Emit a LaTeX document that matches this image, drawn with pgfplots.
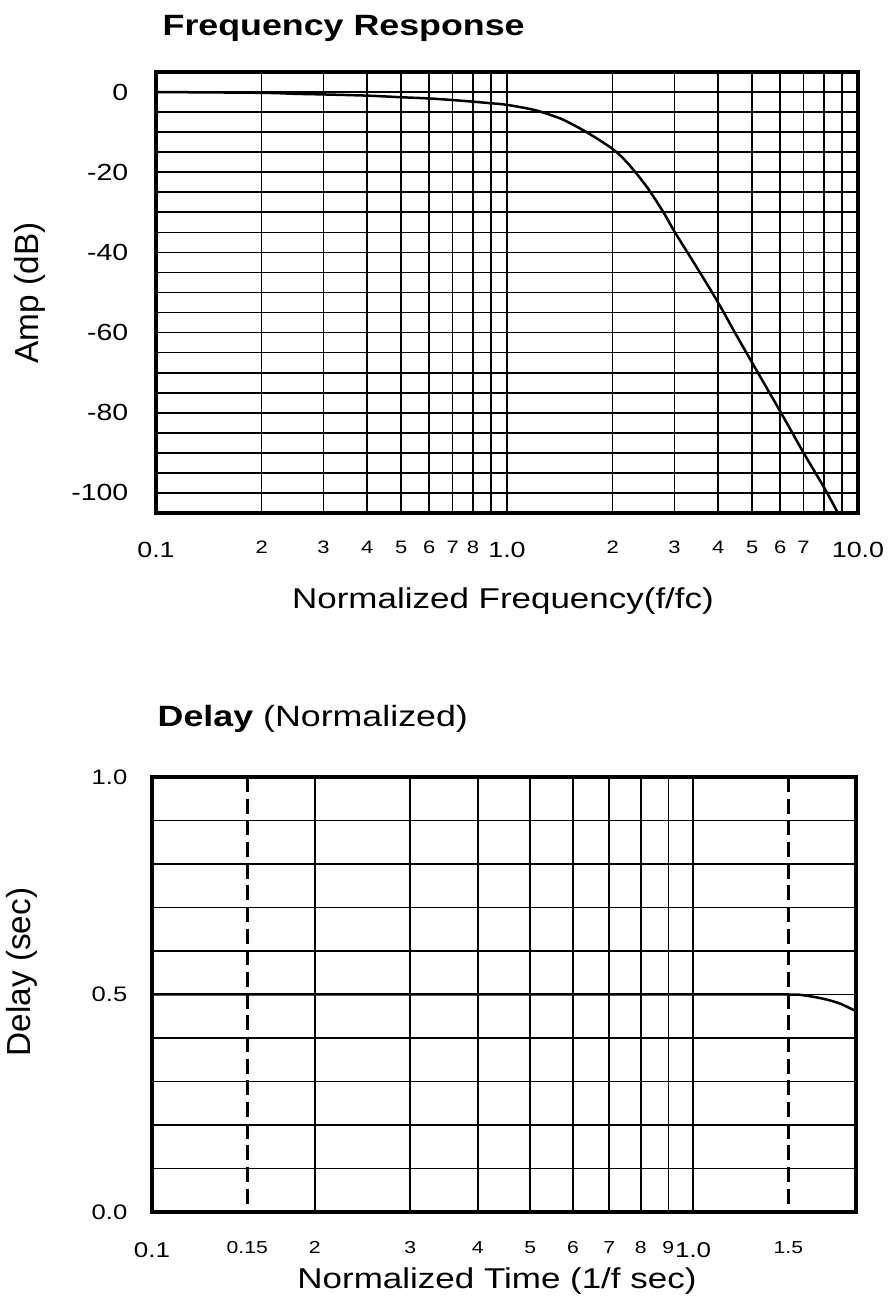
\documentclass[border=0pt]{standalone}
\usepackage{pgfplots}
\pgfplotsset{compat=1.18}
\usepackage{fontspec}
\setmainfont[FakeStretch=1.22]{Liberation Sans}
\newfontfamily\rotfont{Liberation Sans}

\newcommand{\fs}[1]{\fontsize{#1}{#1}\selectfont}

\pgfplotsset{
  filtergrid/.style={
    scale only axis,
    anchor=south west,
    grid=both,
    major grid style={black, line width=0.5pt},
    minor grid style={black, line width=0.5pt},
    major tick length=0pt, minor tick length=0pt,
    axis line style={line width=1pt},
    xticklabel style={anchor=north, inner sep=0pt},
    yticklabel style={anchor=east, inner sep=0pt},
  }
}

\begin{document}
\begin{tikzpicture}
% page frame: 888 x 1301 px at 0.3pt per px
\path (0,0) rectangle (266.4pt,390.3pt);

% ---------------- frequency response ----------------
\begin{semilogxaxis}[filtergrid,
  at={(46.8pt,236.4pt)}, width=210.6pt, height=132.3pt,
  xmin=0.1, xmax=10, ymin=-105, ymax=5,
  xtick={0.1,1,10}, xticklabels={0.1,1.0,10.0},
  minor xtick={0.2,0.3,0.4,0.5,0.6,0.7,0.8,0.9,2,3,4,5,6,7,8,9},
  extra x ticks={0.2,0.3,0.4,0.5,0.6,0.7,0.8,2,3,4,5,6,7},
  extra x tick labels={2,3,4,5,6,7,8,2,3,4,5,6,7},
  extra x tick style={grid=none, xticklabel style={font=\fs{5.4pt}, yshift=0.3pt}},
  ytick={-100,-80,-60,-40,-20,0},
  yticklabels={-100,-80,-60,-40,-20,0},
  minor y tick num=3,
  xticklabel style={yshift=-8.4pt, font=\fs{6.6pt}},
  yticklabel style={xshift=-8.1pt, font=\fs{7pt}},
]
\addplot[black, line width=0.75pt, smooth] coordinates {
  (0.1,0) (0.2,-0.2) (0.25,-0.45) (0.3,-0.6) (0.4,-0.9) (0.5,-1.3)
  (0.6,-1.6) (0.7,-2.0) (0.8,-2.4) (0.9,-2.8) (1.0,-3.2) (1.2,-4.5)
  (1.4,-6.4) (1.5,-7.6) (1.7,-10.2) (2.0,-14.2) (2.2,-17.6) (2.5,-23.6)
  (2.8,-30.2) (3.0,-34.8) (3.5,-44.2) (4.0,-52.6) (4.5,-60.6) (5.0,-67.6)
  (6.0,-79.6) (7.0,-90) (8.0,-98.6) (8.77,-105)
};
\end{semilogxaxis}

% ---------------- delay ----------------
\begin{semilogxaxis}[filtergrid,
  at={(45.6pt,26.7pt)}, width=211.2pt, height=130.5pt,
  xmin=0.1, xmax=2, ymin=0, ymax=1,
  xtick={0.1,1}, xticklabels={0.1,1.0},
  minor xtick={0.2,0.3,0.4,0.5,0.6,0.7,0.8,0.9},
  extra x ticks={0.15,0.2,0.3,0.4,0.5,0.6,0.7,0.8,0.9,1.5},
  extra x tick labels={0.15,2,3,4,5,6,7,8,9,1.5},
  extra x tick style={grid=none, xticklabel style={font=\fs{5.2pt}, yshift=0.3pt}},
  ytick={0,0.5,1}, yticklabels={0.0,0.5,1.0},
  minor y tick num=4,
  xticklabel style={yshift=-9pt, font=\fs{6.4pt}},
  yticklabel style={xshift=-7.2pt, font=\fs{6.3pt}},
]
\addplot[black, line width=0.9pt, dash pattern=on 4.5pt off 2pt] coordinates {(0.15,1) (0.15,0)};
\addplot[black, line width=0.9pt, dash pattern=on 4.5pt off 2pt] coordinates {(1.5,1) (1.5,0)};
\addplot[black, line width=0.75pt, smooth] coordinates {
  (0.1,0.5) (1.0,0.5) (1.5,0.5) (1.58,0.499) (1.68,0.494)
  (1.77,0.488) (1.87,0.479) (1.96,0.467) (2.0,0.462)
};
\end{semilogxaxis}

% titles and axis labels
\node[anchor=base west, inner sep=0pt, font=\fs{8.8pt}] at (48.6pt,379.5pt) {\bfseries Frequency Response};
\node[anchor=base, inner sep=0pt, font=\fs{8.6pt}] at (150.9pt,207.6pt) {Normalized Frequency(f/fc)};
\node[rotate=90, inner sep=0pt, font=\rotfont\fs{10pt}] at (9pt,302.4pt) {Amp (dB)};

\node[anchor=base west, inner sep=0pt, font=\fs{8.8pt}] at (47.1pt,172.2pt) {\textbf{Delay} (Normalized)};
\node[anchor=base, inner sep=0pt, font=\fs{8.6pt}] at (149.1pt,3.6pt) {Normalized Time (1/f sec)};
\node[rotate=90, inner sep=0pt, font=\rotfont\fs{10pt}] at (6.45pt,98.7pt) {Delay (sec)};
\end{tikzpicture}
\end{document}
